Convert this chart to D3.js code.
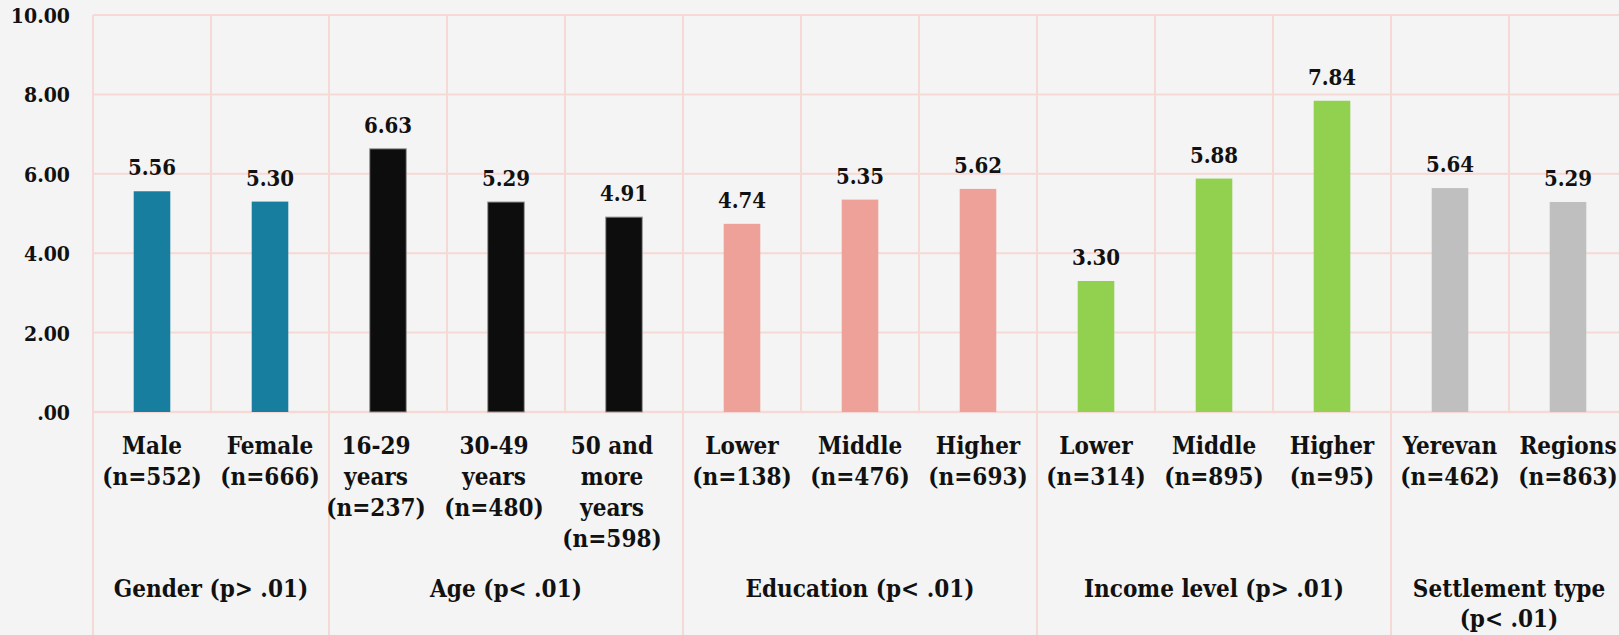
<!DOCTYPE html>
<html>
<head>
<meta charset="utf-8">
<script src="https://cdn.jsdelivr.net/npm/d3@7"></script>
<style>
  html, body { margin: 0; padding: 0; background: #f4f4f4; overflow: hidden; }
  text { font-family: 'DejaVu Serif', 'Liberation Serif', serif; font-stretch: condensed; font-weight: bold; fill: #111; }
</style>
</head>
<body>
<div id="chart"></div>
<script>
const categories = [
  'Male\n(n=552)', 'Female\n(n=666)',
  '16-29\nyears\n(n=237)', '30-49\nyears\n(n=480)', '50 and\nmore\nyears\n(n=598)',
  'Lower\n(n=138)', 'Middle\n(n=476)', 'Higher\n(n=693)',
  'Lower\n(n=314)', 'Middle\n(n=895)', 'Higher\n(n=95)',
  'Yerevan\n(n=462)', 'Regions\n(n=863)'
]
const values = [5.56, 5.30, 6.63, 5.29, 4.91, 4.74, 5.35, 5.62, 3.30, 5.88, 7.84, 5.64, 5.29]
const groups = ['Gender (p> .01)', 'Age (p< .01)', 'Education (p< .01)', 'Income level (p> .01)', 'Settlement type\n(p< .01)']
const groupSizes = [2, 3, 3, 3, 2]
const groupColors = ['#177e9f', '#0d0d0d', '#eda199', '#92d050', '#bfbfbf']
const yTicks = [0, 2, 4, 6, 8, 10]
const yTickLabels = ['.00', '2.00', '4.00', '6.00', '8.00', '10.00']

const width = 1619
const height = 635
const margin = { top: 15, left: 93 }
const colWidth = 118
const zeroY = 412
const gridColor = '#f5d9d5'

// which group each category belongs to
const groupOf = []
groupSizes.forEach((n, g) => { for (let i = 0; i < n; i++) groupOf.push(g) })
const groupEdges = [0].concat(Array.from(d3.cumsum(groupSizes)))

const svg = d3.select('#chart')
  .append('svg')
  .attr('width', width)
  .attr('height', height)

const x = d3.scaleBand()
  .domain(d3.range(categories.length))
  .range([margin.left, margin.left + colWidth * categories.length])

const y = d3.scaleLinear()
  .domain([0, 10])
  .range([zeroY, margin.top])

// horizontal grid
svg.append('g')
  .selectAll('line')
  .data(yTicks)
  .enter().append('line')
  .attr('x1', x.range()[0])
  .attr('x2', x.range()[1])
  .attr('y1', d => y(d))
  .attr('y2', d => y(d))
  .attr('stroke', gridColor)
  .attr('stroke-width', d => d === 0 ? 2.5 : 2)

// vertical grid at each column edge, group edges run to the bottom
svg.append('g')
  .selectAll('line')
  .data(d3.range(categories.length + 1))
  .enter().append('line')
  .attr('x1', i => margin.left + i * x.bandwidth())
  .attr('x2', i => margin.left + i * x.bandwidth())
  .attr('y1', margin.top)
  .attr('y2', i => groupEdges.includes(i) ? height : zeroY)
  .attr('stroke', gridColor)
  .attr('stroke-width', 2)

// y axis labels
svg.append('g')
  .selectAll('text')
  .data(yTicks)
  .enter().append('text')
  .attr('x', 70)
  .attr('y', d => y(d) + 8)
  .attr('text-anchor', 'end')
  .style('font-size', '21px')
  .text((d, i) => yTickLabels[i])

const barWidth = x.bandwidth() * 0.31

svg.append('g')
  .selectAll('rect')
  .data(values)
  .enter().append('rect')
  .attr('x', (d, i) => x(i) + (x.bandwidth() - barWidth) / 2)
  .attr('y', d => y(d))
  .attr('width', barWidth)
  .attr('height', d => zeroY - y(d))
  .attr('fill', (d, i) => groupColors[groupOf[i]])
  .attr('stroke', (d, i) => groupOf[i] === 1 ? '#9a9a9a' : 'none')
  .attr('stroke-width', 1)

// value labels
svg.append('g')
  .selectAll('text')
  .data(values)
  .enter().append('text')
  .attr('x', (d, i) => x(i) + x.bandwidth() / 2)
  .attr('y', d => y(d) - 16)
  .attr('text-anchor', 'middle')
  .style('font-size', '22px')
  .text(d => d.toFixed(2))

// category labels (wrapped ones sit a little left, as in the original)
const catText = svg.append('g')
  .selectAll('text')
  .data(categories)
  .enter().append('text')
  .attr('text-anchor', 'middle')
  .style('font-size', '24px')

catText.selectAll('tspan')
  .data((d, i) => {
    const lines = d.split('\n')
    return lines.map(line => ({ line, i, shift: lines.length > 2 ? -12 : 0 }))
  })
  .enter().append('tspan')
  .attr('x', d => x(d.i) + x.bandwidth() / 2 + d.shift)
  .attr('y', (d, j) => 454 + j * 31)
  .text(d => d.line)

// group labels
const groupText = svg.append('g')
  .selectAll('text')
  .data(groups)
  .enter().append('text')
  .attr('text-anchor', 'middle')
  .style('font-size', '24px')

groupText.selectAll('tspan')
  .data((d, g) => d.split('\n').map(line => ({ line, g })))
  .enter().append('tspan')
  .attr('x', d => margin.left + (groupEdges[d.g] + groupEdges[d.g + 1]) / 2 * x.bandwidth())
  .attr('y', (d, j) => 597 + j * 30)
  .text(d => d.line)
</script>
</body>
</html>
